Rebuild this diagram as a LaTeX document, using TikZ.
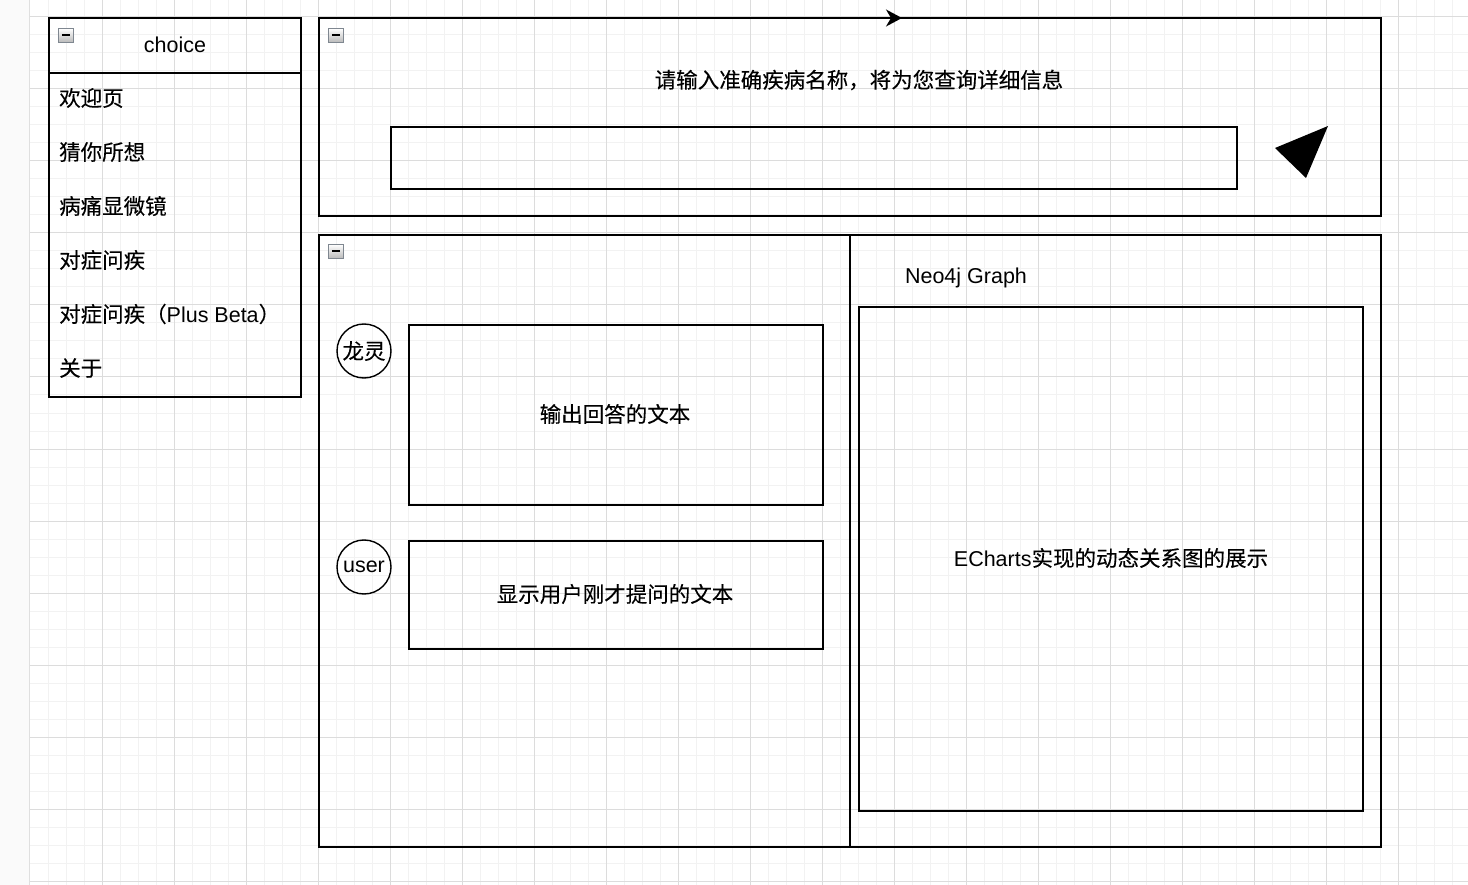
\documentclass[tikz,border=0pt]{standalone}
\usepackage{fontspec}
\setmainfont{Liberation Sans}
\newfontfamily\cjk{Noto Sans CJK SC}[FakeBold=0.2]
\usetikzlibrary{arrows.meta}
\newcommand{\zh}[1]{{\cjk #1}}
\definecolor{minorgrid}{HTML}{F2F2F2}
\definecolor{majorgrid}{HTML}{DCDCDC}
\definecolor{sidestrip}{HTML}{FAFAFA}
\definecolor{iconedge}{HTML}{7F8790}
\tikzset{
  box/.style={draw=black, line width=1.6pt, rectangle, inner sep=0pt, outer sep=0pt, anchor=north west},
  avatar/.style={draw=black, line width=1.4pt, circle, minimum size=54pt, inner sep=0pt},
  label/.style={inner sep=0pt, font=\fontsize{21.5}{26}\selectfont},
  minorline/.style={draw=minorgrid, line width=1pt},
  majorline/.style={draw=majorgrid, line width=1pt},
  foldicon/.style={draw=iconedge, line width=0.8pt, top color=white, bottom color=gray!55,
    rectangle, minimum width=15pt, minimum height=14pt, inner sep=0pt, anchor=north west,
    path picture={\draw[black, line width=2pt] ([xshift=3.5pt]path picture bounding box.west) -- ([xshift=-3.5pt]path picture bounding box.east);}},
}
\begin{document}
\begin{tikzpicture}[x=1pt, y=-1pt]
\useasboundingbox (0,0) rectangle (1468,885);
% canvas and grid
\fill[white] (0,0) rectangle (1468,885);
\fill[sidestrip] (0,0) rectangle (30,885);
\draw[draw=gray!25, line width=1pt] (29.5,0) -- (29.5,885);
\foreach \x in {48,66,...,1468} \draw[minorline] (\x,0) -- (\x,885);
\foreach \y in {-1,17,...,885} \draw[minorline] (30,\y) -- (1468,\y);
\foreach \x in {102,174,...,1468} \draw[majorline] (\x,0) -- (\x,885);
\foreach \y in {17,89,...,885} \draw[majorline] (30,\y) -- (1468,\y);

% navigation list
\node[box, minimum width=252pt, minimum height=379pt] (choice) at (49,18) {};
\node[box, minimum width=252pt, minimum height=55pt] (choicehead) at (49,18) {};
\node[foldicon] (fold1) at (58,28) {};
\node[label] (choicetitle) at (175,45) {choice};
\node[label, anchor=west] (item1) at (59,98) {\zh{欢迎页}};
\node[label, anchor=west] (item2) at (59,152) {\zh{猜你所想}};
\node[label, anchor=west] (item3) at (59,206) {\zh{病痛显微镜}};
\node[label, anchor=west] (item4) at (59,260) {\zh{对症问疾}};
\node[label, anchor=west] (item5) at (59,314) {\zh{对症问疾（}Plus Beta\zh{）}};
\node[label, anchor=west] (item6) at (59,368) {\zh{关于}};

% search panel
\node[box, minimum width=1062pt, minimum height=198pt] (search) at (319,18) {};
\node[foldicon] (fold2) at (328,28) {};
\coordinate (arrowtip) at (902,18);
\draw[line width=1.6pt, -{Stealth[length=16pt, width=17pt, inset=5pt]}] (search.north west) -- (arrowtip);
\node[label] (prompt) at (859,80) {\zh{请输入准确疾病名称，将为您查询详细信息}};
\node[box, minimum width=846pt, minimum height=62pt] (input) at (391,127) {};
\fill[black] (1275,148) -- (1328,126) -- (1306,178) -- cycle;

% chat panel
\node[box, minimum width=531pt, minimum height=612pt] (chat) at (319,235) {};
\node[foldicon] (fold3) at (328,244) {};
\node[avatar] (bot) at (364,351) {};
\node[label] (botname) at (bot.center) {\zh{龙灵}};
\node[box, minimum width=414pt, minimum height=180pt] (answer) at (409,325) {};
\node[label] (answertext) at (615,414) {\zh{输出回答的文本}};
\node[avatar] (user) at (364,567) {};
\node[label] (username) at (user.center) {user};
\node[box, minimum width=414pt, minimum height=108pt] (question) at (409,541) {};
\node[label] (questiontext) at (615,594) {\zh{显示用户刚才提问的文本}};

% graph panel
\node[box, minimum width=531pt, minimum height=612pt] (graph) at (850,235) {};
\node[label] (graphtitle) at (966,278) {Neo4j Graph};
\node[box, minimum width=504pt, minimum height=504pt] (canvas) at (859,307) {};
\node[label] (canvastext) at (1111,558) {ECharts\zh{实现的动态关系图的展示}};
\end{tikzpicture}
\end{document}
